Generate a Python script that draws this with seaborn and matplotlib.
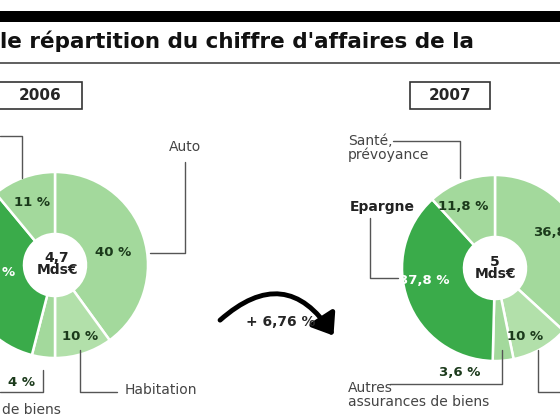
import matplotlib
matplotlib.use("Agg")
import matplotlib.pyplot as plt
import seaborn as sns
from matplotlib.patches import Rectangle, FancyArrowPatch

sns.set_theme(style="white")
plt.rcParams['font.family'] = ['Liberation Sans Narrow', 'DejaVu Sans']

# data
segments = ['Auto', 'Habitation', 'Autres assurances de biens', 'Epargne', 'Santé, prévoyance']
share_2006 = [40, 10, 4, 35, 11]
share_2007 = [36.8, 10, 3.6, 37.8, 11.8]
labels_2006 = ['40 %', '10 %', '4 %', '%', '11 %']
labels_2007 = ['36,8', '10 %', '3,6 %', '37,8 %', '11,8 %']
totals = ['4,7\nMds€', '5\nMds€']
growth = '+ 6,76 %'

light = '#a3d99c'
dark = '#3aab4a'
colors = [light, '#b2e0aa', light, dark, light]

fig = plt.figure(figsize=(5.6, 4.2), dpi=100)
ax = fig.add_axes([0, 0, 1, 1])

# y axis is inverted (pixel coords), so clockwise from top = data ccw from -90
def donut(center, values, r=93):
    ax.pie(values, colors=colors, startangle=-90, counterclock=True,
           center=center, radius=r, frame=True,
           wedgeprops=dict(width=r - 31, edgecolor='white', linewidth=1.8))

donut((55, 265), share_2006)
donut((495, 268), share_2007)

ax.set_xlim(0, 560)
ax.set_ylim(420, 0)
ax.set_aspect('equal')
ax.axis('off')

# header
ax.add_patch(Rectangle((0, 11), 560, 11, color='black', lw=0))
ax.plot([0, 560], [63, 63], color='#444444', lw=1.2)
ax.text(-18, 41, 'Nouvelle répartition du chiffre d\'affaires de la', fontsize=15.5,
        fontweight='bold', va='center', ha='left', color='#111111')
ax.texts[-1].set_position((-84, 41))
for x0, w, yr in [(-2, 84, '2006'), (410, 80, '2007')]:
    ax.add_patch(Rectangle((x0, 82), w, 27, fill=False, ec='#333333', lw=1.2))
    ax.text(x0 + w / 2, 96, yr, fontsize=11, fontweight='bold', ha='center', va='center')

kw = dict(fontsize=9.5, fontweight='bold', ha='center', va='center', color='#1b3a1b')
# 2006 labels
ax.text(113, 253, labels_2006[0], **kw)
ax.text(80, 337, labels_2006[1], **kw)
ax.text(22, 382, labels_2006[2], **kw)
ax.text(8, 273, labels_2006[3], **dict(kw, color='white'))
ax.text(32, 202, labels_2006[4], **kw)
ax.text(57, 264, totals[0], fontsize=10, fontweight='bold', ha='center', va='center',
        linespacing=0.9, color='#222222')
# 2007 labels
ax.text(549, 232, labels_2007[0], **kw)
ax.text(525, 336, labels_2007[1], **kw)
ax.text(460, 372, labels_2007[2], **kw)
ax.text(424, 281, labels_2007[3], **dict(kw, color='white'))
ax.text(463, 207, labels_2007[4], **kw)
ax.text(495, 268, totals[1], fontsize=10, fontweight='bold', ha='center', va='center',
        linespacing=0.9, color='#222222')

nk = dict(fontsize=10, color='#444444', va='center')
ax.text(185, 147, 'Auto', ha='center', **nk)
ax.text(125, 390, 'Habitation', ha='left', **nk)
ax.text(2, 410, 'de biens', ha='left', **nk)
ax.text(348, 148, 'Santé,\nprévoyance', ha='left', linespacing=1.0, **nk)
ax.text(350, 207, 'Epargne', ha='left', fontsize=10, fontweight='bold', color='#222222', va='center')
ax.text(348, 395, 'Autres\nassurances de biens', ha='left', linespacing=1.0, **nk)

lk = dict(color='#555555', lw=1)
ax.plot([185, 185, 150], [162, 253, 253], **lk)
ax.plot([80, 80, 117], [350, 392, 392], **lk)
ax.plot([43, 43, 0], [370, 392, 392], **lk)
ax.plot([0, 22, 22], [136, 136, 178], **lk)
ax.plot([393, 460, 460], [141, 141, 178], **lk)
ax.plot([370, 370, 398], [218, 278, 278], **lk)
ax.plot([390, 502, 502], [384, 384, 350], **lk)
ax.plot([538, 538, 560], [350, 392, 392], **lk)

ax.add_patch(FancyArrowPatch((218, 322), (335, 338), connectionstyle='arc3,rad=-0.6',
                             arrowstyle='-|>,head_width=3,head_length=4',
                             lw=3.5, color='black', mutation_scale=3))
ax.text(281, 322, growth, fontsize=10, fontweight='bold', ha='center', va='center')

fig.savefig('out.png', dpi=100, facecolor='white')
